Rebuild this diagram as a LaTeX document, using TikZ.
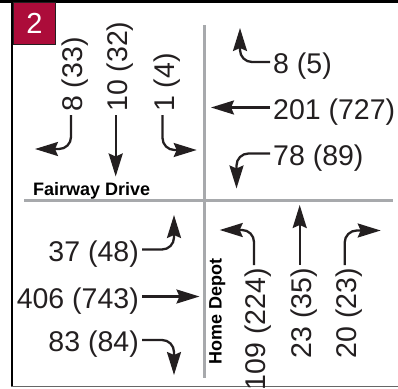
\documentclass[tikz,border=0pt]{standalone}
\usepackage{fontspec}
\setmainfont{Liberation Sans}
\usetikzlibrary{arrows.meta}
\definecolor{ink}{RGB}{35,31,32}
\definecolor{roadgray}{RGB}{167,169,172}
\definecolor{tagred}{RGB}{172,12,58}

\tikzstyle{count} = [font=\fontsize{28.5}{32}\selectfont, text=ink, inner xsep=3pt, inner ysep=0pt, text height=23pt, text depth=0pt]
\tikzstyle{street} = [font=\bfseries\fontsize{18}{20}\selectfont, text=black, inner sep=0pt]
\tikzstyle{road} = [draw=roadgray, line width=3pt]
\tikzstyle{move} = [draw=ink, line width=2.3pt, rounded corners=12pt, -{Stealth[length=23pt, width=14pt, inset=3pt]}]
\tikzstyle{tag} = [fill=tagred, draw=ink, line width=1.3pt, text=white, minimum width=42pt, minimum height=42pt, inner sep=0pt, font=\fontsize{29}{32}\selectfont]

\begin{document}
\begin{tikzpicture}[x=1pt, y=-1pt]
    \useasboundingbox (0,0) rectangle (398,388);
    % Roads and frame
    \draw [road] (24,200) -- (393,200);
    \draw [road] (204.5,25) -- (204.5,378);
    \draw [black, line width=2.5pt] (0,1.25) -- (398,1.25);
    \draw [black, line width=2.5pt] (12.2,0) -- (12.2,387);
    \draw [black!60, line width=1.5pt] (11,386.5) -- (398,386.5);
    % Place nodes
    \node [tag] (tag) at (34.5,23.5) {2};
    \node [street, anchor=base west] (fairway) at (33,195) {Fairway Drive};
    \node [street, rotate=90, anchor=base west] (depot) at (221.5,365) {Home Depot};
    % westbound
    \node [count, anchor=west] (wb_right) at (270,62) {8 (5)};
    \node [count, anchor=west] (wb_thru) at (270,107.5) {201 (727)};
    \node [count, anchor=west] (wb_left) at (270,153.5) {78 (89)};
    \coordinate (wb_right_tip) at (240,28);
    \coordinate (wb_thru_tip) at (211,107.5);
    \coordinate (wb_left_tip) at (236.5,188.5);
    % eastbound
    \node [count, anchor=east] (eb_left) at (142,249.5) {37 (48)};
    \node [count, anchor=east] (eb_thru) at (142,296.5) {406 (743)};
    \node [count, anchor=east] (eb_right) at (142,340) {83 (84)};
    \coordinate (eb_left_tip) at (174,215);
    \coordinate (eb_thru_tip) at (199.5,296.5);
    \coordinate (eb_right_tip) at (174,375);
    % southbound
    \node [count, rotate=90, anchor=west] (sb_right) at (71,115) {8 (33)};
    \node [count, rotate=90, anchor=west] (sb_thru) at (115.7,115) {10 (32)};
    \node [count, rotate=90, anchor=west] (sb_left) at (162.5,115) {1 (4)};
    \coordinate (sb_right_tip) at (35,149);
    \coordinate (sb_thru_tip) at (115.7,176.5);
    \coordinate (sb_left_tip) at (196.7,150);
    % northbound
    \node [count, rotate=90, anchor=east] (nb_left) at (254,265) {109 (224)};
    \node [count, rotate=90, anchor=east] (nb_thru) at (299.7,265) {23 (35)};
    \node [count, rotate=90, anchor=east] (nb_right) at (344.7,265) {20 (23)};
    \coordinate (nb_left_tip) at (219.7,230);
    \coordinate (nb_thru_tip) at (299.7,205);
    \coordinate (nb_right_tip) at (380.7,230.5);
    % Draw edges
    \draw [move] (wb_right.west) -| (wb_right_tip);
    \draw [move] (wb_thru.west) -- (wb_thru_tip);
    \draw [move] (wb_left.west) -| (wb_left_tip);
    \draw [move] (eb_left.east) -| (eb_left_tip);
    \draw [move] (eb_thru.east) -- (eb_thru_tip);
    \draw [move] (eb_right.east) -| (eb_right_tip);
    \draw [move] (sb_right.west) |- (sb_right_tip);
    \draw [move] (sb_thru.west) -- (sb_thru_tip);
    \draw [move] (sb_left.west) |- (sb_left_tip);
    \draw [move] (nb_left.east) |- (nb_left_tip);
    \draw [move] (nb_thru.east) -- (nb_thru_tip);
    \draw [move] (nb_right.east) |- (nb_right_tip);
\end{tikzpicture}
\end{document}
